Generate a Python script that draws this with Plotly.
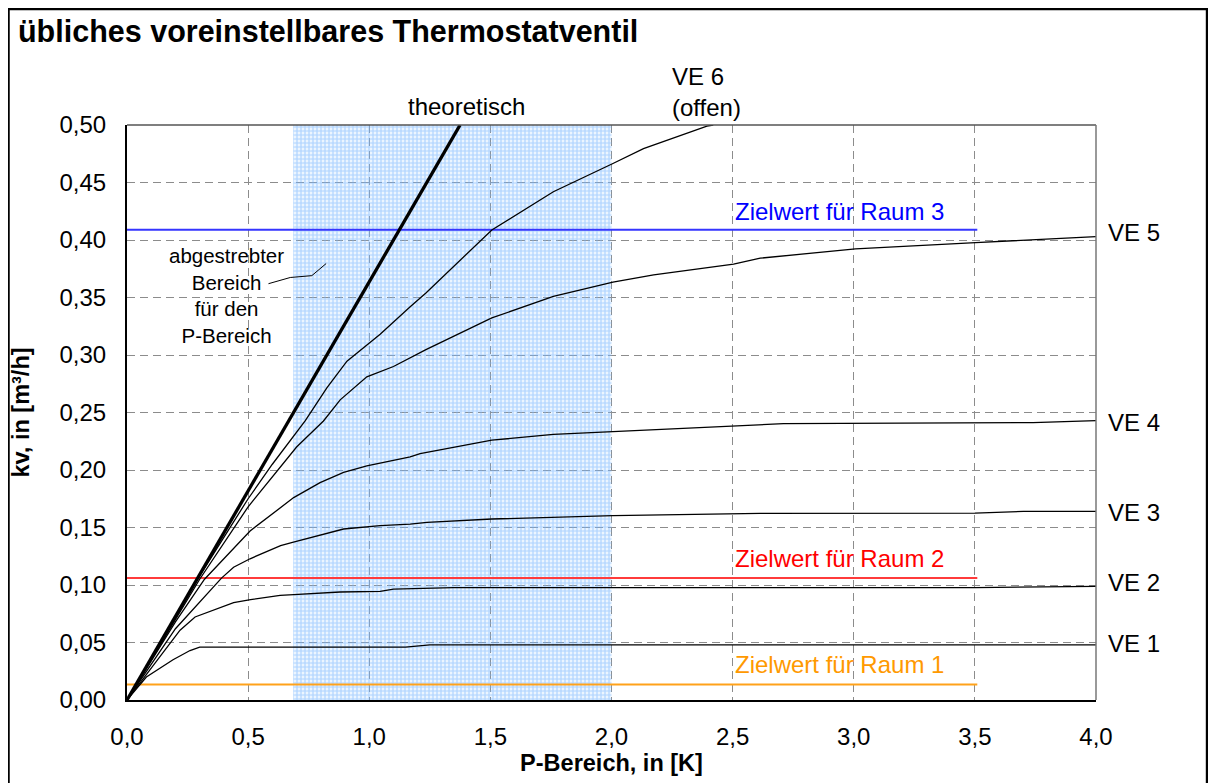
import plotly.graph_objects as go

# ---------------- data ----------------
theo_x = [0.0, 0.5, 1.0, 1.375]
theo_y = [0.0, 0.182, 0.364, 0.50]

ve6_x = [0.0, 0.30, 0.50, 0.60, 0.736, 0.825, 0.908, 1.045, 1.169, 1.234, 1.506, 1.76, 2.006, 2.132, 2.394, 2.42]
ve6_y = [0.0, 0.108, 0.175, 0.205, 0.243, 0.2715, 0.2946, 0.318, 0.342, 0.354, 0.4087, 0.442, 0.4665, 0.4795, 0.4991, 0.50]

ve5_x = [0.0, 0.30, 0.50, 0.70, 0.811, 0.88, 0.99, 1.10, 1.234, 1.506, 1.76, 2.006, 2.174, 2.504, 2.614, 3.007, 3.503, 4.0]
ve5_y = [0.0, 0.105, 0.168, 0.220, 0.2426, 0.261, 0.281, 0.290, 0.3047, 0.3322, 0.351, 0.3634, 0.3697, 0.379, 0.3842, 0.3923, 0.3977, 0.403]

ve4_x = [0.0, 0.20, 0.32, 0.508, 0.688, 0.797, 0.894, 0.99, 1.169, 1.21, 1.506, 1.76, 2.006, 2.504, 2.71, 3.74, 4.0]
ve4_y = [0.0, 0.068, 0.105, 0.147, 0.176, 0.189, 0.198, 0.2036, 0.2114, 0.2143, 0.2259, 0.231, 0.2334, 0.2383, 0.2403, 0.2412, 0.243]

ve3_x = [0.0, 0.20, 0.39, 0.44, 0.508, 0.634, 0.687, 0.797, 0.894, 1.045, 1.169, 1.238, 1.506, 2.006, 2.614, 3.5, 3.7, 4.0]
ve3_y = [0.0, 0.062, 0.106, 0.1155, 0.1228, 0.1343, 0.1372, 0.143, 0.1487, 0.1516, 0.153, 0.1545, 0.1574, 0.1603, 0.1623, 0.1625, 0.164, 0.164]

ve2_x = [0.0, 0.219, 0.281, 0.316, 0.44, 0.51, 0.632, 0.688, 0.88, 1.045, 1.10, 1.347, 3.5, 4.0]
ve2_y = [0.0, 0.0607, 0.0722, 0.075, 0.0847, 0.0872, 0.091, 0.0916, 0.0939, 0.0945, 0.0965, 0.0977, 0.0977, 0.0988]

ve1_x = [0.0, 0.08, 0.19, 0.26, 0.30, 1.15, 1.25, 4.0]
ve1_y = [0.0, 0.020, 0.035, 0.043, 0.046, 0.046, 0.048, 0.048]

curve_names = ["VE 1", "VE 2", "VE 3", "VE 4", "VE 5"]
curves_x = [ve1_x, ve2_x, ve3_x, ve4_x, ve5_x]
curves_y = [ve1_y, ve2_y, ve3_y, ve4_y, ve5_y]
curve_label_y = [0.0491, 0.1026, 0.1633, 0.2412, 0.4064]

# target values (Zielwerte)
target_names = ["Zielwert für Raum 1", "Zielwert für Raum 2", "Zielwert für Raum 3"]
target_values = [0.0135, 0.106, 0.409]
target_colors = ["#ffa21a", "#ff3b3b", "#3535ff"]
target_text_colors = ["#ff9900", "#ff0000", "#0000ff"]
target_label_y = [0.0309, 0.1234, 0.425]
target_x_range = [0.0, 3.51]

# aimed P-range (hatched region)
band_x = [0.686, 2.0]
band_y = [0.0, 0.5]

# callout line for the band annotation
callout_x = [0.584, 0.674, 0.763, 0.822]
callout_y = [0.362, 0.3674, 0.369, 0.3795]

x_ticks = [0.0, 0.5, 1.0, 1.5, 2.0, 2.5, 3.0, 3.5, 4.0]
y_ticks = [0.0, 0.05, 0.10, 0.15, 0.20, 0.25, 0.30, 0.35, 0.40, 0.45, 0.50]

FONT = "Liberation Sans, Arial, sans-serif"

fig = go.Figure()

# hatched band
fig.add_trace(go.Scatter(
    x=[band_x[0], band_x[1], band_x[1], band_x[0], band_x[0]],
    y=[band_y[0], band_y[0], band_y[1], band_y[1], band_y[0]],
    fill="toself", mode="lines", line=dict(width=0),
    fillcolor="rgba(0,0,0,0)",
    fillpattern=dict(shape=".", fgcolor="#78b5ff", bgcolor="rgba(0,0,0,0)", size=4, solidity=0.72),
    hoverinfo="skip", showlegend=False))

# target lines
for name, val, col in zip(target_names, target_values, target_colors):
    fig.add_trace(go.Scatter(x=target_x_range, y=[val, val], mode="lines",
                             line=dict(color=col, width=2), name=name, showlegend=False))

# valve curves
for name, cx, cy in zip(curve_names, curves_x, curves_y):
    fig.add_trace(go.Scatter(x=cx, y=cy, mode="lines", line=dict(color="black", width=1.3),
                             name=name, showlegend=False))
fig.add_trace(go.Scatter(x=ve6_x, y=ve6_y, mode="lines", line=dict(color="black", width=1.3),
                         name="VE 6", showlegend=False))
fig.add_trace(go.Scatter(x=theo_x, y=theo_y, mode="lines", line=dict(color="black", width=3.3),
                         name="theoretisch", showlegend=False))
fig.add_trace(go.Scatter(x=callout_x, y=callout_y, mode="lines", line=dict(color="black", width=1),
                         hoverinfo="skip", showlegend=False))

annotations = []
# curve end labels
for name, ly in zip(curve_names, curve_label_y):
    annotations.append(dict(x=4.0, y=ly, xref="x", yref="y", text=name, showarrow=False,
                            xanchor="left", yanchor="middle", xshift=10,
                            font=dict(family=FONT, size=24, color="black")))
annotations.append(dict(x=2.24, y=1.0566, xref="x", yref="paper", text="VE 6<br>(offen)", showarrow=False,
                        xanchor="left", yanchor="middle", align="left",
                        font=dict(family=FONT, size=24, color="black")))
annotations.append(dict(x=1.40, y=1.032, xref="x", yref="paper", text="theoretisch", showarrow=False,
                        xanchor="center", yanchor="middle",
                        font=dict(family=FONT, size=24, color="black")))
annotations.append(dict(x=0.41, y=0.352, xref="x", yref="y",
                        text="abgestrebter<br>Bereich<br>für den<br>P-Bereich", showarrow=False,
                        xanchor="center", yanchor="middle", align="center",
                        font=dict(family=FONT, size=20.5, color="black")))
for name, ly, col in zip(target_names, target_label_y, target_text_colors):
    annotations.append(dict(x=3.38, y=ly, xref="x", yref="y", text=name, showarrow=False,
                            xanchor="right", yanchor="middle",
                            font=dict(family=FONT, size=24, color=col)))

shapes = [
    # top and right plot frame (grey)
    dict(type="line", xref="paper", yref="paper", x0=0, x1=1, y0=1, y1=1,
         line=dict(color="#555555", width=1.5), layer="above"),
    dict(type="line", xref="paper", yref="paper", x0=1, x1=1, y0=0, y1=1,
         line=dict(color="#777777", width=1.5), layer="above"),
    # outer figure border
    dict(type="rect", xref="paper", yref="paper", x0=-0.1223, x1=1.1146, y0=-0.25, y1=1.2017,
         line=dict(color="black", width=2.5), fillcolor="rgba(0,0,0,0)", layer="above"),
]

fig.update_layout(
    width=1216, height=783,
    margin=dict(l=119, r=128, t=117, b=91),
    paper_bgcolor="white", plot_bgcolor="white",
    separators=",.",
    font=dict(family=FONT, size=24, color="black"),
    title=dict(text="<b>übliches voreinstellbares Thermostatventil</b>", x=0.0082, xanchor="left",
               xref="container", y=0.9706, yanchor="middle", yref="container",
               font=dict(family=FONT, size=30.5, color="black")),
    annotations=annotations, shapes=shapes, showlegend=False,
)
fig.update_xaxes(range=[0, 4.0], tickvals=x_ticks, tickformat=".1f", automargin=False,
                 showgrid=True, gridcolor="#8c8c8c", griddash="8px,5px", gridwidth=1,
                 showline=True, linecolor="black", linewidth=2, zeroline=False,
                 ticks="", ticklabelstandoff=14,
                 tickfont=dict(family=FONT, size=24),
                 title=dict(text="<b>P-Bereich, in [K]</b>", standoff=1,
                            font=dict(family=FONT, size=23.5)))
fig.update_yaxes(range=[0, 0.5], tickvals=y_ticks, tickformat=".2f", automargin=False,
                 showgrid=True, gridcolor="#8c8c8c", griddash="8px,5px", gridwidth=1,
                 showline=True, linecolor="black", linewidth=2, zeroline=False,
                 ticks="", ticklabelstandoff=14,
                 tickfont=dict(family=FONT, size=24),
                 title=dict(text="<b>kv, in [m³/h]</b>", standoff=26,
                            font=dict(family=FONT, size=23.5)))

fig.write_html("out.html")
